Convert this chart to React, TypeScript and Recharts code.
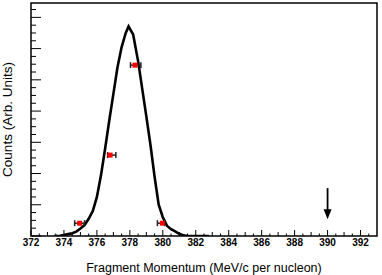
import {
  ComposedChart,
  Line,
  Scatter,
  ErrorBar,
  XAxis,
  YAxis,
  ReferenceArea,
} from "recharts";

// fitted momentum distribution (MeV/c per nucleon vs counts, arb.)
const CURVE_X = [
  373.4, 373.75, 374.0, 374.25, 374.5, 374.75, 375.0, 375.25, 375.5, 375.75, 376.0, 376.25,
  376.5, 376.75, 377.0, 377.25, 377.5, 377.75, 377.92, 378.2, 378.5, 378.67, 379.0, 379.25,
  379.5, 379.75, 380.0, 380.25, 380.5, 380.75, 381.0, 381.25, 381.5, 382.8,
];
const CURVE_Y = [
  0, 1, 3, 6, 9, 14, 24, 35, 55, 80, 125, 195, 280, 370, 455, 540, 605, 650, 671, 645, 560,
  500, 383, 292, 190, 100, 60, 33, 22, 15, 7, 2, 0, 0,
];

// measured points with horizontal errors
const POINT_X = [374.95, 376.8, 378.31, 379.97];
const POINT_Y = [41, 259, 547, 41];
const POINT_ERR_LO = [0.3, 0.15, 0.27, 0.3];
const POINT_ERR_HI = [0.3, 0.35, 0.36, 0.15];

const ARROW_X = 390;
const ARROW_TIP = 54;

const X_MIN = 372;
const X_MAX = 393;
const Y_MAX = 746;

const X_TICKS = [
  372, 372.5, 373, 373.5, 374, 374.5, 375, 375.5, 376, 376.5, 377, 377.5, 378, 378.5, 379,
  379.5, 380, 380.5, 381, 381.5, 382, 382.5, 383, 383.5, 384, 384.5, 385, 385.5, 386, 386.5,
  387, 387.5, 388, 388.5, 389, 389.5, 390, 390.5, 391, 391.5, 392, 392.5,
];
const Y_TICKS = [
  0, 25, 50, 75, 100, 125, 150, 175, 200, 225, 250, 275, 300, 325, 350, 375, 400, 425, 450,
  475, 500, 525, 550, 575, 600, 625, 650, 675, 700, 725,
];

const curveData = CURVE_X.map((x, i) => ({ x, y: CURVE_Y[i] }));
const pointData = POINT_X.map((x, i) => ({
  x,
  y: POINT_Y[i],
  err: [POINT_ERR_LO[i], POINT_ERR_HI[i]],
}));
const arrowData = [{ x: ARROW_X, y: ARROW_TIP }];

const FONT = "'Liberation Sans', Arial, Helvetica, sans-serif";

const XTick = (props: any) => {
  const { x, y, payload } = props;
  const v = Number(payload.value);
  const even = Math.abs(v % 2) < 1e-6;
  const whole = Math.abs(v % 1) < 1e-6;
  const len = even ? 6 : whole ? 4 : 2.5;
  return (
    <g>
      <line x1={x} x2={x} y1={y} y2={y - len} stroke="#000" strokeWidth={1} />
      {even && (
        <text
          x={x}
          y={y + 10}
          textAnchor="middle"
          fontFamily={FONT}
          fontWeight="bold"
          fontSize={10}
          fill="#000"
        >
          {v}
        </text>
      )}
    </g>
  );
};

const YTick = (props: any) => {
  const { x, y, payload } = props;
  const major = Number(payload.value) % 100 === 0;
  return <line x1={x} x2={x + (major ? 10 : 5)} y1={y} y2={y} stroke="#000" strokeWidth={1} />;
};

const PointShape = (props: any) => {
  const { cx, cy } = props;
  return <rect x={cx - 2.5} y={cy - 2.5} width={5} height={5} fill="#ff0000" />;
};

const ArrowShape = (props: any) => {
  const { cx, cy } = props;
  return (
    <g>
      <line x1={cx} x2={cx} y1={cy - 31} y2={cy - 9} stroke="#000" strokeWidth={1.8} />
      <polygon points={`${cx - 4},${cy - 10} ${cx + 4},${cy - 10} ${cx},${cy}`} fill="#000" />
    </g>
  );
};

const YTitle = (props: any) => {
  const { viewBox } = props;
  const cy = viewBox.y + viewBox.height / 2;
  return (
    <text
      x={12}
      y={cy}
      transform={`rotate(-90, 12, ${cy})`}
      textAnchor="middle"
      fontFamily={FONT}
      fontSize={13.5}
      fill="#000"
    >
      Counts (Arb. Units)
    </text>
  );
};

export default function App() {
  return (
    <div style={{ position: "absolute", left: 0, top: 0, width: 382, height: 275, background: "#fff" }}>
      <ComposedChart width={382} height={275} margin={{ top: 3, right: 5, left: 0, bottom: 0 }}>
        <XAxis
          type="number"
          dataKey="x"
          domain={[X_MIN, X_MAX]}
          ticks={X_TICKS}
          interval={0}
          allowDataOverflow
          height={39}
          tickSize={0}
          tickMargin={0}
          tickLine={false}
          axisLine={false}
          tick={<XTick />}
          label={{
            value: "Fragment Momentum (MeV/c per nucleon)",
            position: "insideBottom",
            offset: 3,
            fill: "#000",
            fontSize: 12.5,
            fontFamily: FONT,
          }}
        />
        <YAxis
          type="number"
          dataKey="y"
          domain={[0, Y_MAX]}
          ticks={Y_TICKS}
          interval={0}
          allowDataOverflow
          width={31}
          tickSize={0}
          tickMargin={0}
          tickLine={false}
          axisLine={false}
          tick={<YTick />}
          label={<YTitle />}
        />
        <ReferenceArea
          x1={X_MIN}
          x2={X_MAX}
          y1={0}
          y2={Y_MAX}
          fill="none"
          stroke="#000"
          strokeWidth={1.5}
          ifOverflow="visible"
        />
        <Line
          data={curveData}
          dataKey="y"
          type="linear"
          stroke="#000"
          strokeWidth={2.6}
          dot={false}
          activeDot={false}
          isAnimationActive={false}
        />
        <Scatter data={pointData} dataKey="y" shape={<PointShape />} isAnimationActive={false}>
          <ErrorBar
            dataKey="err"
            direction="x"
            width={3}
            stroke="#222"
            strokeWidth={1.5}
            isAnimationActive={false}
          />
        </Scatter>
        <Scatter data={arrowData} dataKey="y" shape={<ArrowShape />} isAnimationActive={false} />
      </ComposedChart>
    </div>
  );
}
